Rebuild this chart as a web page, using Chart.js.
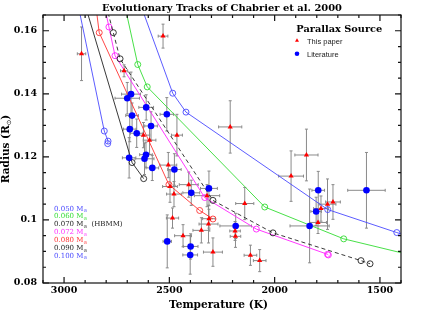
<!DOCTYPE html>
<html>
<head>
<meta charset="utf-8">
<script src="https://cdn.jsdelivr.net/npm/chart.js@4.4.1/dist/chart.umd.min.js"></script>
<style>
  html, body { margin: 0; padding: 0; background: #fff; }
  canvas { display: block; }
</style>
</head>
<body>
<canvas id="tracks" width="427" height="319"></canvas>
<script>
// evolutionary tracks, Teff (K) vs radius (Rsun); end entries run off the frame
const t050 = [2646, 2484, 2421, 1748, 1420, 1350];
const r050 = [0.170, 0.1402, 0.1342, 0.1033, 0.0960, 0.0945];
const t060 = [2718, 2650, 2605, 2047, 1672, 1350];
const r060 = [0.170, 0.1493, 0.1422, 0.1041, 0.0940, 0.0888];
const t070 = [2808, 2766, 2734, 2293, 2008, 1590, 1547];
const r070 = [0.170, 0.1594, 0.1511, 0.1062, 0.0959, 0.0871, 0.0861];
const t072 = [2815, 2787, 2758, 2332, 2087, 1749, 1745];
const r072 = [0.170, 0.1612, 0.1521, 0.1071, 0.0971, 0.0891, 0.0889];
const t080 = [2853, 2833, 2502, 2356, 2293];
const r080 = [0.170, 0.1594, 0.1112, 0.1030, 0.1003];
const t090 = [2908, 2677, 2622];
const r090 = [0.170, 0.1182, 0.1131];
const t100 = [2939, 2809, 2791, 2793];
const r100 = [0.170, 0.1282, 0.1250, 0.1242];

// parallaxes from this paper
const paperT    = [2917, 2530, 2715, 2623, 2594, 2464, 2211, 2505, 2497, 2408, 2478, 2321, 2485, 2435, 2348,
                   2314, 2312, 2293, 2142, 2188, 2186, 2115, 2071, 1922, 1849, 1780, 1749, 1723, 1794];
const paperR    = [0.1527, 0.1583, 0.1473, 0.1269, 0.1253, 0.1269, 0.1295, 0.1174, 0.1106, 0.1112, 0.1082, 0.1077, 0.1006, 0.0950, 0.0967,
                   0.0987, 0.1004, 0.0898, 0.1052, 0.0965, 0.0948, 0.0888, 0.0871, 0.1139, 0.1206, 0.1036, 0.1050, 0.1057, 0.0992];
const paperTerr = [20, 23, 17, 30, 30, 26, 55, 40, 35, 45, 35, 60, 29, 40, 40,
                   45, 30, 45, 43, 25, 25, 30, 30, 59, 55, 35, 40, 35, 40];
const paperRerr = [0.0085, 0.0038, 0.0019, 0.004, 0.0045, 0.0066, 0.0083, 0.004, 0.005, 0.004, 0.004, 0.0035, 0.0032, 0.0035, 0.004,
                   0.006, 0.003, 0.0045, 0.0051, 0.003, 0.0035, 0.0032, 0.0035, 0.008, 0.0082, 0.004, 0.008, 0.0055, 0.0035];

// parallaxes from the literature
const litT    = [2682, 2700, 2677, 2610, 2512, 2688, 2655, 2587, 2691, 2611, 2618, 2581, 2476, 2396, 2312,
                 2510, 2399, 2401, 2185, 1793, 1803, 1834, 1564];
const litR    = [0.1399, 0.1386, 0.1331, 0.1357, 0.1335, 0.1288, 0.1275, 0.1298, 0.1197, 0.1207, 0.1194, 0.1165, 0.1160, 0.1086, 0.1100,
                 0.0932, 0.0916, 0.0889, 0.0981, 0.1094, 0.1027, 0.0981, 0.1094];
const litTerr = [45, 58, 30, 35, 32, 30, 30, 30, 32, 30, 45, 30, 32, 40, 40,
                 20, 35, 35, 75, 30, 25, 93, 89];
const litRerr = [0.007, 0.005, 0.004, 0.004, 0.0053, 0.004, 0.0045, 0.0045, 0.0064, 0.004, 0.005, 0.004, 0.005, 0.004, 0.0055,
                 0.0084, 0.004, 0.0061, 0.004, 0.006, 0.0045, 0.0117, 0.012];

const xTicksMajor = [3000, 2500, 2000, 1500];
const yTicksMajor = [0.08, 0.1, 0.12, 0.14, 0.16];
const massLabels = ['0.050', '0.060', '0.070', '0.072', '0.080', '0.090', '0.100'];
const massColors = ['#4a4aff', '#33dd33', '#222', '#ff33ff', '#ff3333', '#222', '#4a4aff'];

const xMin = 1400, xMax = 3100, yMin = 0.08, yMax = 0.165;

function pts(xs, ys) {
  return xs.map((x, i) => ({ x: x, y: ys[i] }));
}

function track(label, xs, ys, color, dash) {
  return {
    type: 'line',
    label: label,
    data: pts(xs, ys),
    borderColor: color,
    borderWidth: 0.9,
    borderDash: dash || [],
    pointStyle: 'circle',
    pointBorderColor: color,
    pointBackgroundColor: 'rgba(0,0,0,0)',
    pointBorderWidth: 0.9,
    pointRadius: ctx => {
      const p = ctx.raw;
      return (p.x < xMin || p.x > xMax || p.y > yMax || p.y < yMin) ? 0 : 3;
    },
    tension: 0,
    clip: 0,
    order: 2
  };
}

const isMajor = (v, step) => Math.abs(v / step - Math.round(v / step)) < 1e-6;

const deco = {
  id: 'deco',
  beforeDatasetsDraw(chart) {
    const ctx = chart.ctx, xs = chart.scales.x, ys = chart.scales.y, a = chart.chartArea;
    ctx.save();
    ctx.beginPath();
    ctx.rect(a.left, a.top, a.right - a.left, a.bottom - a.top);
    ctx.clip();
    ctx.strokeStyle = '#8a8a8a';
    ctx.lineWidth = 1;
    chart.data.datasets.forEach(ds => {
      if (!ds.xErr) return;
      ds.data.forEach((p, i) => {
        const px = xs.getPixelForValue(p.x), py = ys.getPixelForValue(p.y);
        const x1 = xs.getPixelForValue(p.x - ds.xErr[i]), x2 = xs.getPixelForValue(p.x + ds.xErr[i]);
        const y1 = ys.getPixelForValue(p.y - ds.yErr[i]), y2 = ys.getPixelForValue(p.y + ds.yErr[i]);
        ctx.beginPath();
        ctx.moveTo(x1, py); ctx.lineTo(x2, py);
        ctx.moveTo(x1, py - 1.5); ctx.lineTo(x1, py + 1.5);
        ctx.moveTo(x2, py - 1.5); ctx.lineTo(x2, py + 1.5);
        ctx.moveTo(px, y1); ctx.lineTo(px, y2);
        ctx.moveTo(px - 1.5, y1); ctx.lineTo(px + 1.5, y1);
        ctx.moveTo(px - 1.5, y2); ctx.lineTo(px + 1.5, y2);
        ctx.stroke();
      });
    });
    ctx.restore();
  },
  afterDraw(chart) {
    const ctx = chart.ctx, xs = chart.scales.x, ys = chart.scales.y, a = chart.chartArea;
    ctx.save();
    // frame and inward ticks
    ctx.strokeStyle = '#111';
    ctx.lineWidth = 1.2;
    ctx.strokeRect(a.left, a.top, a.right - a.left, a.bottom - a.top);
    ctx.beginPath();
    xs.ticks.forEach(t => {
      const px = xs.getPixelForValue(t.value);
      const len = xTicksMajor.includes(t.value) ? 6 : 3;
      ctx.moveTo(px, a.bottom); ctx.lineTo(px, a.bottom - len);
      ctx.moveTo(px, a.top); ctx.lineTo(px, a.top + len);
    });
    ys.ticks.forEach(t => {
      const py = ys.getPixelForValue(t.value);
      const len = isMajor(t.value, 0.02) ? 6 : 3;
      ctx.moveTo(a.left, py); ctx.lineTo(a.left + len, py);
      ctx.moveTo(a.right, py); ctx.lineTo(a.right - len, py);
    });
    ctx.stroke();

    ctx.fillStyle = '#000';
    ctx.textBaseline = 'alphabetic';
    // title
    ctx.font = 'bold 10px "DejaVu Serif"';
    fitText(ctx, 'Evolutionary Tracks of Chabrier et al. 2000', 222, 10.5, 240);
    // x axis title
    ctx.font = 'bold 10.5px "DejaVu Serif"';
    fitText(ctx, 'Temperature (K)', 218.5, 308, 99);
    // y axis title with solar subscript
    ctx.save();
    ctx.translate(9, 149);
    ctx.rotate(-Math.PI / 2);
    const partA = 'Radius (R', partC = ')', sun = '\u2299';
    ctx.font = 'bold 10.5px "DejaVu Serif"';
    const wA = ctx.measureText(partA).width, wC = ctx.measureText(partC).width;
    ctx.font = '6.5px "DejaVu Sans"';
    const wB = ctx.measureText(sun).width;
    let x0 = -(wA + wB + wC) / 2;
    ctx.textAlign = 'left';
    ctx.font = 'bold 10.5px "DejaVu Serif"';
    ctx.fillText(partA, x0, 0);
    ctx.font = '6.5px "DejaVu Sans"';
    ctx.fillText(sun, x0 + wA, 2);
    ctx.font = 'bold 10.5px "DejaVu Serif"';
    ctx.fillText(partC, x0 + wA + wB, 0);
    ctx.restore();

    // parallax source legend
    ctx.font = 'bold 10px "DejaVu Serif"';
    fitText(ctx, 'Parallax Source', 339.3, 32, 86);
    ctx.fillStyle = '#ff0000';
    Chart.helpers.drawPoint(ctx, { pointStyle: 'triangle', radius: 2.3, borderWidth: 0 }, 297, 40.5);
    ctx.fillStyle = '#0000ff';
    Chart.helpers.drawPoint(ctx, { pointStyle: 'circle', radius: 2.3, borderWidth: 0 }, 297, 53.7);
    ctx.fillStyle = '#222';
    ctx.font = '7.5px "Liberation Sans"';
    ctx.textAlign = 'left';
    ctx.fillText('This paper', 307, 43.5);
    ctx.fillText('Literature', 307, 56.5);

    // mass legend
    massLabels.forEach((m, i) => {
      const y = 210.5 + i * 7.9;
      ctx.fillStyle = massColors[i];
      ctx.font = '7px "DejaVu Serif"';
      ctx.fillText(m + ' M', 54, y);
      const w = ctx.measureText(m + ' M').width;
      ctx.font = '4.5px "DejaVu Sans"';
      ctx.fillText('\u2299', 54 + w, y + 1.5);
      if (m === '0.070') {
        ctx.font = '7px "DejaVu Serif"';
        ctx.fillText('(HBMM)', 91.5, y);
      }
    });
    ctx.restore();
  }
};

function fitText(ctx, s, cx, y, w) {
  const m = ctx.measureText(s).width;
  ctx.save();
  ctx.translate(cx, y);
  ctx.scale(w / m, 1);
  ctx.textAlign = 'center';
  ctx.fillText(s, 0, 0);
  ctx.restore();
}

new Chart(document.getElementById('tracks'), {
  type: 'scatter',
  data: {
    datasets: [
      {
        label: 'This paper',
        data: pts(paperT, paperR),
        xErr: paperTerr, yErr: paperRerr,
        pointStyle: 'triangle',
        pointRadius: 3,
        pointBorderWidth: 0,
        backgroundColor: '#ff0000',
        borderColor: '#ff0000',
        clip: 0,
        order: 0
      },
      {
        label: 'Literature',
        data: pts(litT, litR),
        xErr: litTerr, yErr: litRerr,
        pointStyle: 'circle',
        pointRadius: 3.3,
        pointBorderWidth: 0,
        backgroundColor: '#0000ff',
        borderColor: '#0000ff',
        clip: 0,
        order: 0
      },
      track('0.050', t050, r050, '#4a4aff'),
      track('0.060', t060, r060, '#33dd33'),
      track('0.070', t070, r070, '#222', [4, 3]),
      track('0.072', t072, r072, '#ff22ff'),
      track('0.080', t080, r080, '#ff3333'),
      track('0.090', t090, r090, '#222'),
      track('0.100', t100, r100, '#4a4aff')
    ]
  },
  options: {
    responsive: false,
    animation: false,
    layout: { padding: { left: 0, top: 15, right: 26, bottom: 0 } },
    plugins: { legend: { display: false }, tooltip: { enabled: false }, title: { display: false } },
    scales: {
      x: {
        type: 'linear',
        reverse: true,
        min: xMin,
        max: xMax,
        grid: { display: false, drawTicks: false },
        border: { display: false },
        afterFit: s => { s.height = 36; },
        ticks: {
          stepSize: 100,
          autoSkip: false,
          maxRotation: 0,
          minRotation: 0,
          padding: 2,
          color: '#000',
          font: { family: 'DejaVu Serif', size: 9.5, weight: 'bold' },
          callback: v => xTicksMajor.includes(v) ? String(v) : ''
        }
      },
      y: {
        type: 'linear',
        min: yMin,
        max: yMax,
        grid: { display: false, drawTicks: false },
        border: { display: false },
        afterFit: s => { s.width = 43; },
        ticks: {
          stepSize: 0.005,
          autoSkip: false,
          padding: 6,
          color: '#000',
          font: { family: 'DejaVu Serif', size: 9.5, weight: 'bold' },
          callback: v => yTicksMajor.some(m => Math.abs(m - v) < 1e-6) ? String(Math.round(v * 100) / 100) : ''
        }
      }
    }
  },
  plugins: [deco]
});
</script>
</body>
</html>
